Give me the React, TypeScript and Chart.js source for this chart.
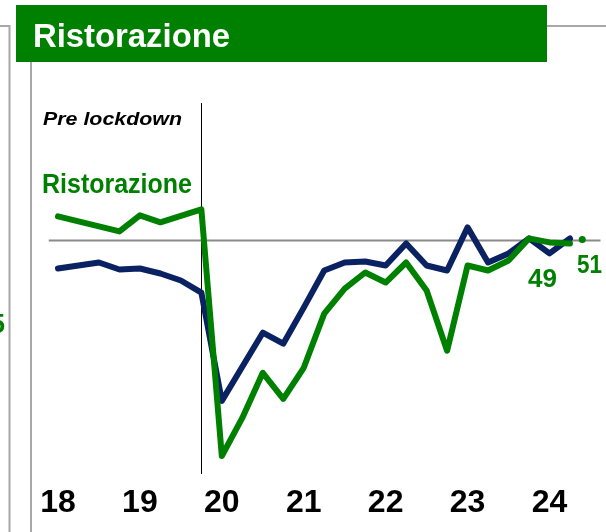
import React, { useEffect, useRef } from "react";
import { Chart, registerables } from "chart.js";

Chart.register(...registerables);

// ---- data (quarterly, Q1 2018 .. Q2 2024) ----
const YEAR_LABELS = ["18", "19", "20", "21", "22", "23", "24"];
const QUARTERS_PER_YEAR = 4;
const SECTOR_SERIES = [
  54.8, 53.8, 52.8, 51.8, 55.0, 53.6, 54.9, 56.2,
  7.0, 14.6, 23.6, 18.4, 24.6, 35.4, 40.4, 43.6,
  41.6, 45.6, 40.0, 28.0, 45.0, 44.0, 46.0, 50.4,
  49.6, 49.4,
];
const TOTAL_SERIES = [
  44.4, 45.0, 45.6, 44.2, 44.4, 43.4, 42.0, 39.6,
  18.0, 24.8, 31.6, 29.4, 36.6, 44.0, 45.6, 45.8,
  45.0, 49.4, 45.0, 44.0, 52.6, 45.6, 47.4, 50.4,
  47.4, 50.4,
];
const LATEST_POINT = { x: 25.6, y: 50.2 };
const THRESHOLD = 50;
const THRESHOLD_FROM = -0.45;
const THRESHOLD_TO = 26.5;
const LOCKDOWN_INDEX = 7;
const TITLE = "Ristorazione";
const SERIES_NAME = "Ristorazione";
const LOCKDOWN_LABEL = "Pre lockdown";
const END_LABEL = "49";
const LATEST_LABEL = "51";
const CUT_LABEL = "5";

const GREEN = "#008000";
const NAVY = "#0a2262";
const GREY = "#a8a8a8";

function fitText(
  ctx: CanvasRenderingContext2D,
  text: string,
  x: number,
  y: number,
  width: number,
  font: string,
  color: string
) {
  ctx.save();
  ctx.font = font;
  ctx.fillStyle = color;
  ctx.textAlign = "left";
  ctx.textBaseline = "alphabetic";
  const w = ctx.measureText(text).width || 1;
  ctx.translate(x, y);
  ctx.scale(width / w, 1);
  ctx.fillText(text, 0, 0);
  ctx.restore();
}

const decorPlugin = {
  id: "decor",
  beforeDatasetsDraw(chart: any) {
    const ctx: CanvasRenderingContext2D = chart.ctx;
    const x = Math.round(chart.scales.x.getPixelForValue(LOCKDOWN_INDEX)) + 0.5;
    ctx.save();
    ctx.strokeStyle = "#000";
    ctx.lineWidth = 1;
    ctx.beginPath();
    ctx.moveTo(x, 103);
    ctx.lineTo(x, 474);
    ctx.stroke();
    ctx.restore();
  },
  afterDraw(chart: any) {
    const ctx: CanvasRenderingContext2D = chart.ctx;
    ctx.save();
    // frame lines
    ctx.strokeStyle = GREY;
    ctx.lineWidth = 2;
    ctx.beginPath();
    ctx.moveTo(0, 26);
    ctx.lineTo(9.5, 26);
    ctx.lineTo(9.5, 532);
    ctx.moveTo(31, 62);
    ctx.lineTo(31, 532);
    ctx.moveTo(547, 26);
    ctx.lineTo(606, 26);
    ctx.stroke();
    // title box
    ctx.fillStyle = GREEN;
    ctx.fillRect(16, 5, 531, 57);
    ctx.restore();

    const fam = "'Liberation Sans', Arial, sans-serif";
    fitText(ctx, TITLE, 33, 47, 197, `bold 34px ${fam}`, "#ffffff");
    fitText(ctx, LOCKDOWN_LABEL, 43, 125, 139, `italic bold 19px ${fam}`, "#000000");
    fitText(ctx, SERIES_NAME, 42, 193, 150, `bold 27px ${fam}`, GREEN);
    fitText(ctx, END_LABEL, 528, 287, 29, `bold 26px ${fam}`, GREEN);
    fitText(ctx, LATEST_LABEL, 577, 273, 25, `bold 26px ${fam}`, GREEN);

    ctx.save();
    ctx.font = `bold 27px ${fam}`;
    ctx.fillStyle = GREEN;
    ctx.textAlign = "right";
    ctx.textBaseline = "alphabetic";
    ctx.fillText(CUT_LABEL, 5, 333);
    ctx.restore();
  },
};

export default function App() {
  const ref = useRef<HTMLCanvasElement | null>(null);

  useEffect(() => {
    if (!ref.current) return;
    const toPoints = (arr: number[]) => arr.map((y, i) => ({ x: i, y }));
    const chart = new Chart(ref.current, {
      type: "line",
      data: {
        datasets: [
          {
            label: "latest",
            data: [LATEST_POINT],
            showLine: false,
            pointRadius: 3.5,
            pointBackgroundColor: GREEN,
            pointBorderWidth: 0,
            order: 0,
          },
          {
            label: SERIES_NAME,
            data: toPoints(SECTOR_SERIES),
            borderColor: GREEN,
            borderWidth: 6,
            pointRadius: 0,
            tension: 0,
            borderCapStyle: "round",
            borderJoinStyle: "round",
            order: 1,
          },
          {
            label: "Totale",
            data: toPoints(TOTAL_SERIES),
            borderColor: NAVY,
            borderWidth: 6,
            pointRadius: 0,
            tension: 0,
            borderCapStyle: "round",
            borderJoinStyle: "round",
            order: 2,
          },
          {
            label: "threshold",
            data: [
              { x: THRESHOLD_FROM, y: THRESHOLD },
              { x: THRESHOLD_TO, y: THRESHOLD },
            ],
            borderColor: "#8a8a8a",
            borderWidth: 2,
            pointRadius: 0,
            order: 3,
          },
        ],
      },
      options: {
        responsive: false,
        animation: false,
        devicePixelRatio: 1,
        layout: { padding: { left: 37.5, right: 5.3, top: 90, bottom: 10 } },
        plugins: { legend: { display: false }, tooltip: { enabled: false } },
        scales: {
          x: {
            type: "linear",
            min: -1,
            max: 26.5,
            grid: { display: false, drawTicks: false },
            border: { display: false },
            ticks: {
              stepSize: QUARTERS_PER_YEAR,
              includeBounds: false,
              autoSkip: false,
              maxRotation: 0,
              padding: 0,
              color: "#000",
              font: { family: "'Liberation Sans', Arial, sans-serif", size: 32, weight: "bold" },
              callback: (v: any) => {
                const idx = Number(v) / QUARTERS_PER_YEAR;
                return Number.isInteger(idx) && YEAR_LABELS[idx] ? YEAR_LABELS[idx] : "";
              },
            },
          },
          y: {
            display: false,
            min: 1.5,
            max: 80,
          },
        },
      },
      plugins: [decorPlugin],
    });
    return () => chart.destroy();
  }, []);

  return (
    <div style={{ position: "fixed", left: 0, top: 0, width: 606, height: 532, background: "#fff" }}>
      <canvas ref={ref} width={606} height={532} style={{ width: 606, height: 532, display: "block" }} />
    </div>
  );
}
